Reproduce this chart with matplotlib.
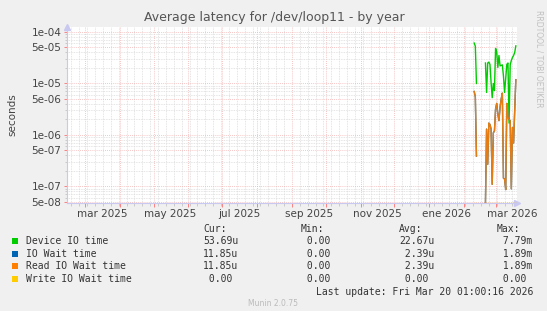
import matplotlib
matplotlib.use("Agg")
import matplotlib.pyplot as plt
import matplotlib.dates as mdates
import matplotlib.ticker as mticker
from matplotlib.patches import Rectangle
import numpy as np
import pandas as pd

# daily samples (only the last weeks carry data)
days = pd.date_range("2026-02-10", "2026-03-19", freq="D")
nan = np.nan
device_io = [6.1e-5, 5.3e-5, 1.0e-5, nan, nan, nan, nan, nan, nan, nan,
             2.5e-5, 6.7e-6, 2.5e-5, 2.6e-5, 2.35e-5, 1.05e-5, 5.3e-6, 1.0e-5, 7.3e-6,
             4.8e-5, 4.1e-5, 2.05e-5, 3.5e-5, 2.2e-5, 2.25e-5, 2.3e-5, 1.4e-5, 6.7e-6,
             1.25e-5, 2.35e-5, 2.5e-5, 1.7e-6, 2.3e-5, 2.8e-5, 3.2e-5, 3.5e-5, 4.0e-5, 5.37e-5]
read_wait = [7.0e-6, 5.5e-6, 3.9e-7, nan, nan, nan, nan, nan, nan, nan,
             0.0, 1.3e-6, 2.7e-7, 1.7e-6, 1.6e-6, 1.3e-6, 1.1e-7, 1.1e-6, 1.2e-6,
             3.2e-6, 4.1e-6, 2.6e-6, 1.9e-6, 3.5e-6, 5.0e-6, 6.5e-6, 1.45e-7, 1.4e-7,
             8.7e-8, 4.1e-6, 2.2e-6, 2.0e-6, 1.9e-6, 9.0e-8, 1.4e-6, 7.0e-7, 3.0e-6, 1.185e-5]
io_wait = list(read_wait)
write_wait = [0.0 if not np.isnan(v) else nan for v in read_wait]

legend_names = ["Device IO time", "IO Wait time", "Read IO Wait time", "Write IO Wait time"]
colors = ["#00cc00", "#0066b3", "#ff8000", "#ffcc00"]
cur = ["53.69u", "11.85u", "11.85u", " 0.00"]
mins = [" 0.00", " 0.00", " 0.00", " 0.00"]
avgs = ["22.67u", " 2.39u", " 2.39u", " 0.00"]
maxs = [" 7.79m", " 1.89m", " 1.89m", " 0.00"]

ytick_vals = [1e-4, 5e-5, 1e-5, 5e-6, 1e-6, 5e-7, 1e-7, 5e-8]
ytick_text = ["1e-04", "5e-05", "1e-05", "5e-06", "1e-06", "5e-07", "1e-07", "5e-08"]
xlabel_dates = pd.to_datetime(["2025-03-16", "2025-05-16", "2025-07-16", "2025-09-16",
                               "2025-11-16", "2026-01-16", "2026-03-16"])
xlabel_text = ["mar 2025", "may 2025", "jul 2025", "sep 2025", "nov 2025", "ene 2026", "mar 2026"]

t0 = pd.Timestamp("2025-02-13 01:00")
t1 = pd.Timestamp("2026-03-20 01:00")
ymin, ymax = 4.78e-8, 1.25e-4

fig = plt.figure(figsize=(5.47, 3.11), dpi=100, facecolor="#f0f0f0")
ax = fig.add_axes([67 / 547, 1 - 203 / 311, 450 / 547, 176 / 311])
ax.set_facecolor("white")
ax.set_yscale("log")
ax.set_xlim(t0, t1)
ax.set_ylim(ymin, ymax)

# grid like rrdtool
ax.xaxis.set_major_locator(mdates.MonthLocator())
ax.xaxis.set_minor_locator(mdates.WeekdayLocator(byweekday=mdates.MO))
ax.xaxis.set_major_formatter(mticker.NullFormatter())
ax.yaxis.set_major_locator(mticker.FixedLocator(ytick_vals))
ax.yaxis.set_major_formatter(mticker.FixedFormatter(ytick_text))
ax.yaxis.set_minor_locator(mticker.LogLocator(subs=[2, 3, 4, 6, 7, 8, 9]))
ax.yaxis.set_minor_formatter(mticker.NullFormatter())
ax.grid(which="minor", color="#dcdcdc", linestyle=(0, (1, 1)), linewidth=0.6)
ax.grid(which="major", color="#f4b4b4", linestyle=(0, (1, 1.5)), linewidth=0.6)
ax.set_axisbelow(True)
ax.tick_params(which="major", axis="x", length=3, color="#ff7070", width=0.6)
ax.tick_params(which="minor", axis="x", length=2, color="#bbbbbb", width=0.5)
ax.tick_params(which="major", axis="y", length=2, color="#ff7070", width=0.6,
               labelsize=7.5, labelcolor="#444444", pad=2)
ax.tick_params(which="minor", axis="y", length=1.5, color="#bbbbbb", width=0.5)
for s in ["top", "right"]:
    ax.spines[s].set_visible(False)
for s in ["left", "bottom"]:
    ax.spines[s].set_color("#c8c8f0")
    ax.spines[s].set_linewidth(0.8)

for d, txt in zip(xlabel_dates, xlabel_text):
    ax.text(d, -0.035, txt, transform=ax.get_xaxis_transform(), ha="center", va="top",
            fontsize=7.5, color="#444444")

# arrows at axis ends
ax.plot([1.0], [0.0], marker=">", color="#c8c8f0", markersize=5, transform=ax.transAxes, clip_on=False)
ax.plot([0.0], [1.0], marker="^", color="#c8c8f0", markersize=5, transform=ax.transAxes, clip_on=False)

# data lines (zeros sit on the axis floor, as rrdtool draws them)
ax.plot(days, device_io, color=colors[0], linewidth=1.0)
ax.plot(days, np.clip(io_wait, ymin, None), color=colors[1], linewidth=1.0)
ax.plot(days, np.clip(read_wait, ymin, None), color=colors[2], linewidth=1.0, alpha=0.9)
ax.plot(days, np.clip(write_wait, ymin, None), color=colors[3], linewidth=1.0, alpha=0.6)

fig.text(274 / 547, 1 - 18 / 311, "Average latency for /dev/loop11 - by year", ha="center",
         va="center", fontsize=9, color="#555555")
fig.text(12 / 547, 1 - 115 / 311, "seconds", rotation=90, ha="center", va="center",
         fontsize=7.5, color="#444444")
fig.text(539 / 547, 1 - 10 / 311, "RRDTOOL / TOBI OETIKER", rotation=270, ha="center", va="top",
         fontsize=5.5, color="#c0c0c0")

mono = dict(family="DejaVu Sans Mono", fontsize=7, color="#333333", va="center")
fig.text(203 / 547, 1 - 229 / 311, "Cur:", **mono)
fig.text(301 / 547, 1 - 229 / 311, "Min:", **mono)
fig.text(399 / 547, 1 - 229 / 311, "Avg:", **mono)
fig.text(497 / 547, 1 - 229 / 311, "Max:", **mono)
row_y = [241, 254, 266, 279]
for i, name in enumerate(legend_names):
    y = 1 - row_y[i] / 311
    fig.patches.append(Rectangle((12 / 547, y - 3 / 311), 6 / 547, 6 / 311,
                                 transform=fig.transFigure, facecolor=colors[i], edgecolor="none"))
    fig.text(26 / 547, y, name, **mono)
    fig.text(203 / 547, y, cur[i], **mono)
    fig.text(301 / 547, y, mins[i], **mono)
    fig.text(399 / 547, y, avgs[i], **mono)
    fig.text(497 / 547, y, maxs[i], **mono)
fig.text(533 / 547, 1 - 292 / 311, "Last update: Fri Mar 20 01:00:16 2026", ha="right", **mono)
fig.text(273 / 547, 1 - 304 / 311, "Munin 2.0.75", ha="center", va="center", fontsize=5.5,
         color="#bbbbbb")

fig.savefig("out.png", dpi=100, facecolor=fig.get_facecolor())
